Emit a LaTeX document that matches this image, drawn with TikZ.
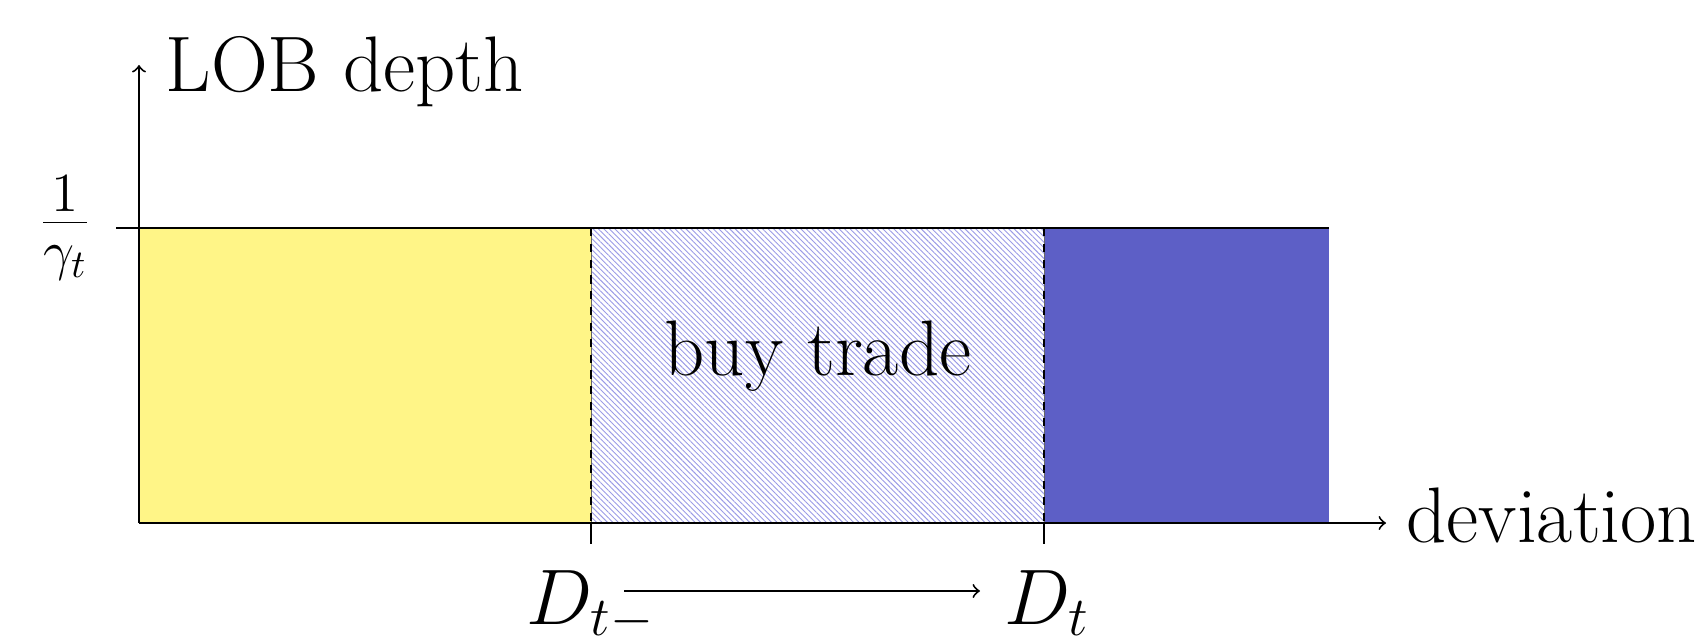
\RequirePackage{fix-cm}
\documentclass[tikz,border=0pt]{standalone}
\usetikzlibrary{patterns.meta}
\definecolor{lobyellow}{RGB}{255,245,135}
\definecolor{lobblue}{RGB}{93,95,198}
\definecolor{hatchc}{RGB}{155,155,230}
\begin{document}
\begin{tikzpicture}[x=0.01cm,y=-0.01cm,
  every node/.style={font=\fontsize{22.4}{27}\selectfont},
  axisline/.style={line width=0.55pt},
  divline/.style={line width=0.6pt, dash pattern=on 2.3pt off 2.2pt},
  lbl/.style={inner sep=0pt}]
\useasboundingbox (0,0) rectangle (1700,637);
% regions
\fill[lobyellow] (139,228) rectangle (591,523);
\fill[lobblue] (1044,228) rectangle (1329,523);
\fill[pattern={Lines[angle=-45,distance=1.1pt,line width=0.26pt]}, pattern color=hatchc] (591,228) rectangle (1044,523);
% coordinates
\coordinate (O) at (139,523);
\coordinate (ytip) at (139,65);
\coordinate (xtip) at (1386,523);
\coordinate (ltick) at (116,228);
\coordinate (lend) at (1329,228);
\coordinate (d1top) at (591,228);
\coordinate (d1bot) at (591,523);
\coordinate (d1tick) at (591,544);
\coordinate (d2top) at (1044,228);
\coordinate (d2bot) at (1044,523);
\coordinate (d2tick) at (1044,544);
\coordinate (a1) at (624,591);
\coordinate (a2) at (980,591);
% lines
\draw[line width=0.25pt, black!60] (d1top) -- (d1bot);
\draw[line width=0.25pt, black!60] (d2top) -- (d2bot);
\draw[divline] (d1top) -- (d1bot);
\draw[divline] (d2top) -- (d2bot);
\draw[axisline] (ltick) -- (lend);
\draw[axisline] (d1bot) -- (d1tick);
\draw[axisline] (d2bot) -- (d2tick);
\draw[axisline,->] (O) -- (ytip);
\draw[axisline,->] (O) -- (xtip);
\draw[axisline,->] (a1) -- (a2);
% labels
\node[lbl, anchor=base west] (ylab) at (165,92) {LOB depth};
\node[lbl, anchor=base west] (xlab) at (1406,542) {deviation};
\node[lbl, anchor=east] (gam) at (92,228) {$\frac{1}{\gamma_t}$};
\node[lbl, anchor=base] (buy) at (818,376) {buy trade};
\node[lbl, anchor=base] (Dtm) at (591,624) {$D_{t-}$};
\node[lbl, anchor=base] (Dt) at (1047,624) {$D_t$};
\end{tikzpicture}
\end{document}
